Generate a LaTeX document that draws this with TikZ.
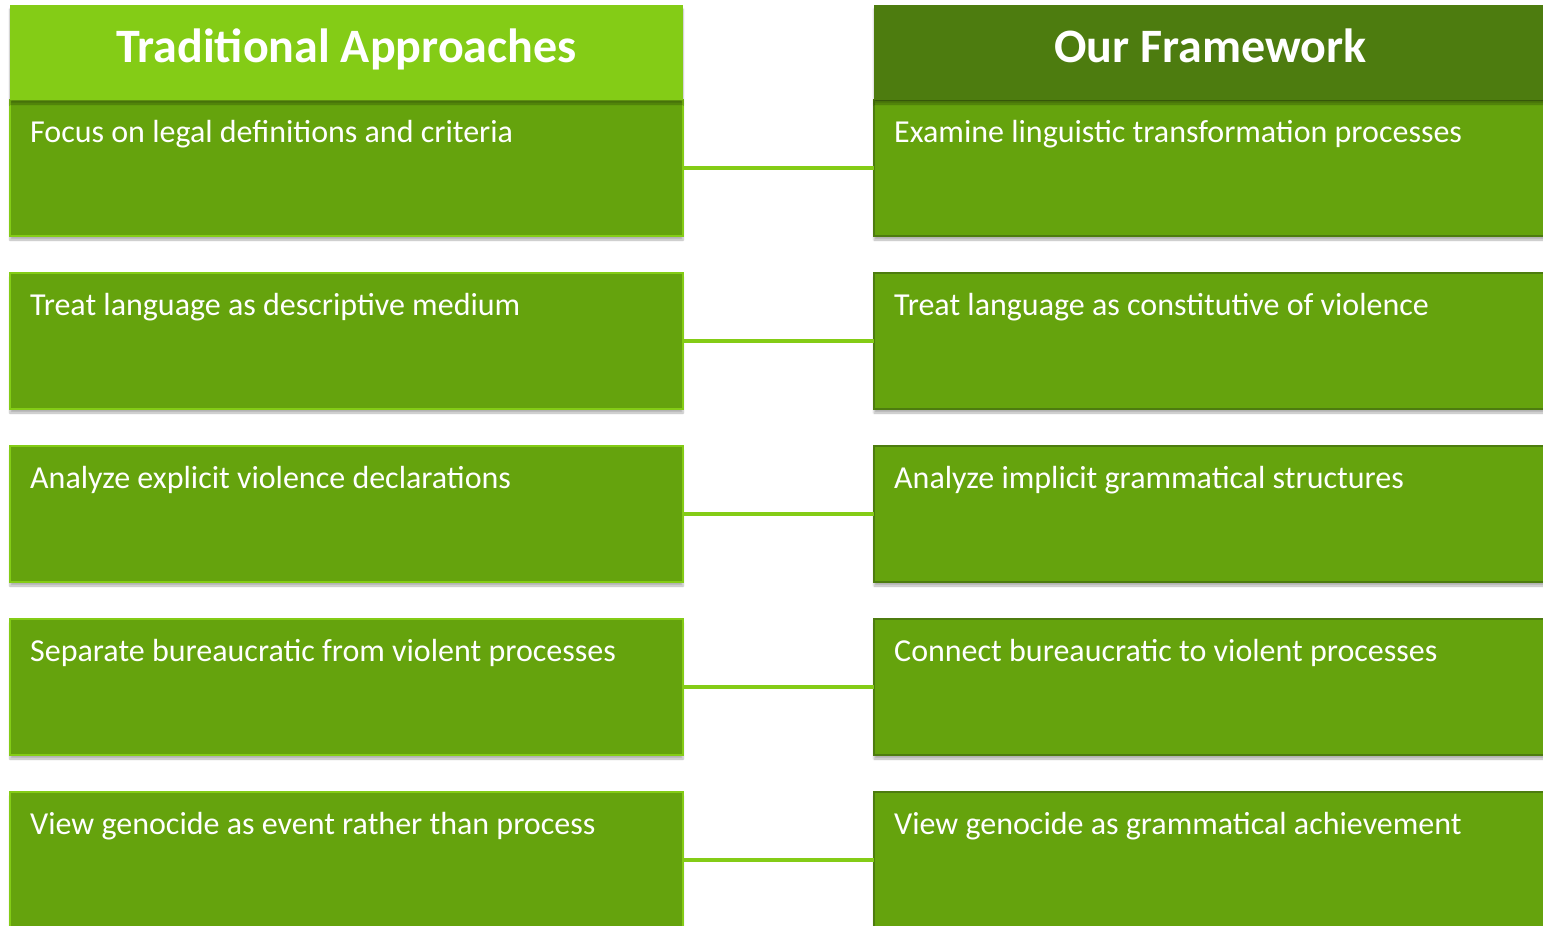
\documentclass[tikz,border=0pt]{standalone}
\usepackage{fontspec}
\setmainfont{Carlito}
\usetikzlibrary{positioning,shadows.blur}
\definecolor{limelight}{HTML}{84CC16}
\definecolor{limemid}{HTML}{65A30D}
\definecolor{limedark}{HTML}{4D7C0F}

\begin{document}
\begin{tikzpicture}[x=1pt,y=-1pt,
    softshadow/.style={blur shadow={shadow xshift=0pt,shadow yshift=-4pt,shadow blur steps=6,shadow opacity=30}},
    itembox/.style={line width=2pt,minimum width=673pt,minimum height=136pt,inner sep=0pt,outer sep=0pt,fill=limemid,softshadow},
    tradbox/.style={itembox,draw=limelight},
    ourbox/.style={itembox,draw=limedark},
    headbox/.style={minimum width=673pt,minimum height=95pt,inner sep=0pt,outer sep=0pt,text height=30pt,text depth=11pt,text=white,font=\fontsize{48}{57}\selectfont\bfseries,softshadow},
    itemtext/.style={anchor=base west,inner sep=0pt,text=white,font=\fontsize{32}{38}\selectfont},
    link/.style={draw=limelight,line width=4pt}]
        \useasboundingbox (0,0) rectangle (1543,926);

        \node[tradbox,anchor=north west] (l1) at (10,100) {};
        \node[tradbox,below=37pt of l1] (l2) {};
        \node[tradbox,below=37pt of l2] (l3) {};
        \node[tradbox,below=37pt of l3] (l4) {};
        \node[tradbox,below=37pt of l4] (l5) {};

        \node[ourbox,right=191pt of l1] (r1) {};
        \node[ourbox,right=191pt of l2] (r2) {};
        \node[ourbox,right=191pt of l3] (r3) {};
        \node[ourbox,right=191pt of l4] (r4) {};
        \node[ourbox,right=191pt of l5] (r5) {};

        % column heads
        \node[headbox,fill=limelight,above=0pt of l1] (lhead) {Traditional Approaches};
        \node[headbox,fill=limedark,above=0pt of r1] (rhead) {Our Framework};

        \node[itemtext] (l1t) at ([shift={(20,42)}]l1.north west) {Focus on legal definitions and criteria};
        \node[itemtext] (l2t) at ([shift={(20,42)}]l2.north west) {Treat language as descriptive medium};
        \node[itemtext] (l3t) at ([shift={(20,42)}]l3.north west) {Analyze explicit violence declarations};
        \node[itemtext] (l4t) at ([shift={(20,42)}]l4.north west) {Separate bureaucratic from violent processes};
        \node[itemtext] (l5t) at ([shift={(20,42)}]l5.north west) {View genocide as event rather than process};

        \node[itemtext] (r1t) at ([shift={(20,42)}]r1.north west) {Examine linguistic transformation processes};
        \node[itemtext] (r2t) at ([shift={(20,42)}]r2.north west) {Treat language as constitutive of violence};
        \node[itemtext] (r3t) at ([shift={(20,42)}]r3.north west) {Analyze implicit grammatical structures};
        \node[itemtext] (r4t) at ([shift={(20,42)}]r4.north west) {Connect bureaucratic to violent processes};
        \node[itemtext] (r5t) at ([shift={(20,42)}]r5.north west) {View genocide as grammatical achievement};

        \draw[link] (l1.east) -- (r1.west);
        \draw[link] (l2.east) -- (r2.west);
        \draw[link] (l3.east) -- (r3.west);
        \draw[link] (l4.east) -- (r4.west);
        \draw[link] (l5.east) -- (r5.west);
      \end{tikzpicture}
\end{document}
